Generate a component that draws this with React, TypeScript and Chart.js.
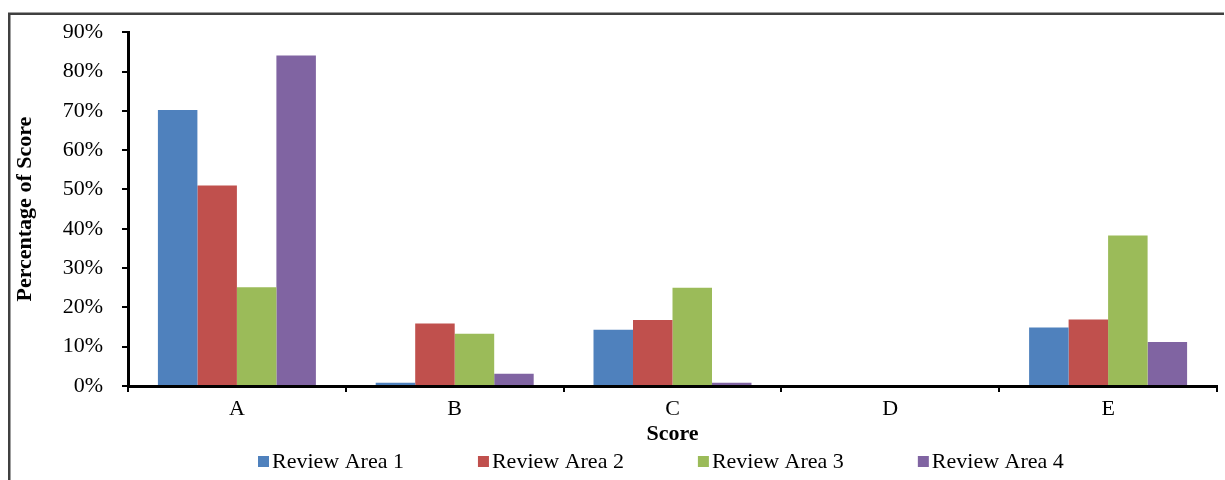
import React, { useEffect, useRef } from "react";
import { Chart, registerables } from "chart.js";

Chart.register(...registerables);

const categories = ["A", "B", "C", "D", "E"];
const seriesNames = ["Review Area 1", "Review Area 2", "Review Area 3", "Review Area 4"];
const reviewArea1 = [70.2, 0.8, 14.3, 0, 14.9];
const reviewArea2 = [51.0, 15.9, 16.8, 0, 16.9];
const reviewArea3 = [25.1, 13.3, 25.0, 0, 38.3];
const reviewArea4 = [84.1, 3.1, 0.8, 0, 11.2];
const yTickLabels = ["0%", "10%", "20%", "30%", "40%", "50%", "60%", "70%", "80%", "90%"];
const seriesColors = ["#4F81BD", "#C0504D", "#9BBB59", "#8064A2"];

const FONT = "'Liberation Serif', 'Times New Roman', serif";

export default function App() {
  const ref = useRef<HTMLCanvasElement>(null);

  useEffect(() => {
    document.body.style.margin = "0";
    const canvas = ref.current;
    if (!canvas) return;

    const framePlugin = {
      id: "frame",
      beforeDraw(chart: any) {
        const c = chart.ctx;
        c.save();
        c.strokeStyle = "#404040";
        c.lineWidth = 2.5;
        c.beginPath();
        c.moveTo(9.25, 490);
        c.lineTo(9.25, 13.75);
        c.lineTo(1224, 13.75);
        c.stroke();
        c.restore();
      },
    };

    const legendPlugin = {
      id: "bottomLegend",
      afterDraw(chart: any) {
        const c = chart.ctx;
        c.save();
        c.font = `22px ${FONT}`;
        c.textBaseline = "middle";
        c.textAlign = "left";
        const y = 462;
        const box = 11;
        const gap = 3;
        const itemGap = 74;
        let x = 258;
        chart.data.datasets.forEach((ds: any) => {
          c.fillStyle = ds.backgroundColor;
          c.fillRect(x, y - 6, box, box);
          c.fillStyle = "#000";
          c.fillText(ds.label, x + box + gap, y);
          x += box + gap + c.measureText(ds.label).width + itemGap;
        });
        c.restore();
      },
    };

    const values = [reviewArea1, reviewArea2, reviewArea3, reviewArea4];

    const chart = new Chart(canvas, {
      type: "bar",
      data: {
        labels: categories,
        datasets: values.map((v, i) => ({
          label: seriesNames[i],
          data: v,
          backgroundColor: seriesColors[i],
          borderWidth: 0,
          categoryPercentage: 0.7254,
          barPercentage: 1,
        })),
      },
      options: {
        responsive: false,
        animation: false,
        layout: { padding: { left: 0, right: 8, top: 31, bottom: 30 } },
        plugins: {
          legend: { display: false },
          tooltip: { enabled: false },
        },
        scales: {
          x: {
            grid: {
              display: true,
              drawOnChartArea: false,
              drawTicks: true,
              tickLength: 6,
              color: "#000",
              lineWidth: 2,
              offset: true,
            },
            border: { display: true, color: "#000", width: 3 },
            ticks: {
              color: "#000",
              font: { family: FONT, size: 22 },
              padding: 4,
              maxRotation: 0,
              autoSkip: false,
            },
            title: {
              display: true,
              text: "Score",
              color: "#000",
              font: { family: FONT, size: 22, weight: "bold" },
              padding: { top: 0, bottom: 2 },
            },
            afterFit: (s: any) => {
              s.height = 64;
            },
          },
          y: {
            min: 0,
            max: 90,
            ticks: {
              stepSize: 10,
              color: "#000",
              font: { family: FONT, size: 22 },
              padding: 19,
              callback: (_v: any, i: number) => yTickLabels[i],
            },
            grid: {
              drawOnChartArea: false,
              drawTicks: true,
              tickLength: 6,
              color: "#000",
              lineWidth: 2,
            },
            border: { display: true, color: "#000", width: 3 },
            title: {
              display: true,
              text: "Percentage of Score",
              color: "#000",
              font: { family: FONT, size: 22, weight: "bold" },
              padding: { top: 12, bottom: 0 },
            },
            afterFit: (s: any) => {
              s.width = 128;
            },
          },
        },
      } as any,
      plugins: [framePlugin, legendPlugin],
    });

    return () => chart.destroy();
  }, []);

  return <canvas ref={ref} width={1225} height={480} style={{ display: "block" }} />;
}
